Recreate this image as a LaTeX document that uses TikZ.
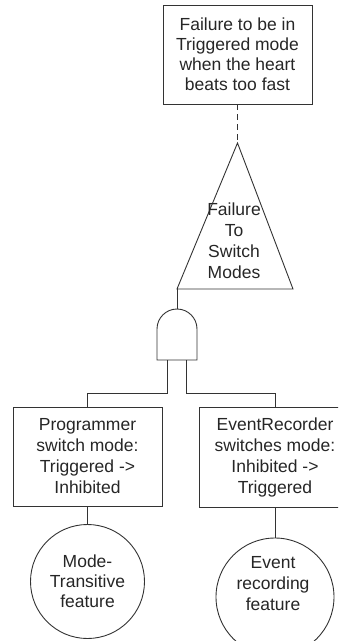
\documentclass[tikz,border=0pt]{standalone}
\usepackage{fontspec}
\setmainfont{Liberation Sans}
\begin{document}
\begin{tikzpicture}[x=1pt,y=-1pt,
  ln/.style={draw=black!80,line width=0.9pt},
  txt/.style={font=\fontsize{17.5}{21}\selectfont,align=center,text=black!85},
  evbox/.style={ln,rectangle,inner sep=0pt,txt},
  basic/.style={ln,circle,inner sep=0pt,txt}]
\useasboundingbox (0,0) rectangle (338,641);
\clip (0,0) rectangle (338,641);

% top event
\node[evbox,minimum width=149pt,minimum height=99pt,font=\fontsize{17.5}{20}\selectfont]
  (top) at (237.5,54.5) {Failure to be in\\Triggered mode\\when the heart\\beats too fast};

% transfer triangle
\coordinate (apex) at (237.5,143);
\coordinate (tbl) at (177,289);
\coordinate (tbr) at (293,289);
\draw[ln] (apex) -- (tbr) -- (tbl) -- cycle;
\node[txt] (trilabel) at (234,240.5) {Failure\\To\\Switch\\Modes};

% AND gate (y axis points down, so the dome runs through 270 degrees)
\coordinate (gin) at (177,309);
\coordinate (gl) at (167,360);
\coordinate (gr) at (186,360);
\draw[ln] (157,360) -- (157,329) arc[start angle=180,end angle=360,radius=20] -- (197,360) -- cycle;

% intermediate events
\node[evbox,minimum width=149pt,minimum height=99pt] (prog) at (87.5,456.5)
  {Programmer\\switch mode:\\Triggered ->\\Inhibited};
\node[evbox,minimum width=152pt,minimum height=100pt] (evr) at (275,457)
  {EventRecorder\\switches mode:\\Inhibited ->\\Triggered};

% basic events
\node[basic,minimum size=114pt,font=\fontsize{17.5}{20}\selectfont] (mtc) at (87.5,581.5)
  {Mode-\\Transitive\\feature};
\node[basic,minimum size=118pt] (evc) at (275,597) {};
\node[txt,font=\fontsize{17.5}{21}\selectfont] (evt) at (273,584) {Event\\recording\\feature};

% connectors
\draw[ln,dash pattern=on 6pt off 4pt] (top.south) -- (apex);
\draw[ln] (tbl) -- (gin);
\draw[ln] (gl) -- ++(0,33) -| (prog.north);
\draw[ln] (gr) -- ++(0,33) -| (evr.north);
\draw[ln] (prog.south) -- (mtc.north);
\draw[ln] (evr.south) -- (evc.north);
\end{tikzpicture}
\end{document}
